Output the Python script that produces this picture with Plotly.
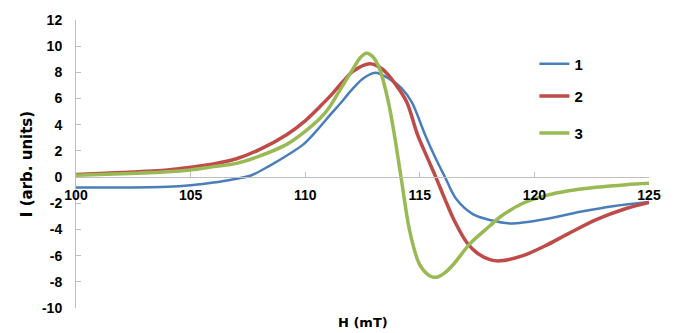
import plotly.graph_objects as go

# Series 1 (blue)
h1 = [100, 102, 104, 105, 106, 107, 107.6, 108.46, 109.2, 109.92, 110.5, 111.08, 111.52, 112, 112.5, 113.05,
      113.7, 114.2, 114.65, 115.23, 115.7, 116.1, 116.6, 117.33, 118.06, 118.94, 119.6, 120.5, 122, 123.5, 125]
i1 = [-0.80, -0.80, -0.74, -0.62, -0.42, -0.12, 0.1, 0.88, 1.65, 2.5, 3.55, 4.73, 5.6, 6.6, 7.5, 7.97,
      7.47, 6.8, 5.73, 3.24, 1.4, 0.0, -1.7, -2.85, -3.28, -3.54, -3.45, -3.2, -2.65, -2.2, -1.9]

# Series 2 (red)
h2 = [100, 102, 104, 105, 106, 107, 108, 109.19, 110, 110.65, 111.1, 111.65, 112.1, 112.83, 113.4, 113.99,
      114.43, 114.9, 115.3, 115.7, 116.1, 116.5, 117.05, 117.5, 118.06, 118.5, 119.5, 120.53, 121.5, 122.7, 124, 125]
i2 = [0.2, 0.35, 0.55, 0.75, 1.0, 1.4, 2.1, 3.24, 4.3, 5.4, 6.2, 7.3, 8.1, 8.66, 8.2, 6.97,
      5.73, 3.24, 1.6, 0.0, -1.7, -3.3, -5.0, -5.8, -6.3, -6.4, -6.0, -5.2, -4.3, -3.25, -2.4, -1.93]

# Series 3 (green)
h3 = [100, 102, 104, 105, 106, 107, 108, 109.19, 110, 110.65, 111.08, 111.5, 112.1, 112.39, 112.68, 112.97,
      113.26, 113.63, 113.89, 114.18, 114.57, 115.0, 115.45, 115.74, 116.1, 116.5, 117.19, 118.06, 118.5,
      119.5, 120.53, 121.5, 122.7, 124, 125]
i3 = [0.15, 0.25, 0.4, 0.55, 0.8, 1.05, 1.6, 2.5, 3.5, 4.49, 5.4, 6.6, 8.3, 9.1, 9.46, 9.15,
      8.2, 5.73, 3.24, 0.0, -4.21, -6.7, -7.55, -7.65, -7.3, -6.6, -5.08, -3.72, -3.05,
      -2.0, -1.4, -1.05, -0.78, -0.58, -0.48]

series_names = ["1", "2", "3"]
colors = ["#4A7EBB", "#BE4B48", "#98B954"]
widths = [2.5, 3.5, 3.5]

x_ticks = [100, 105, 110, 115, 120, 125]
y_ticks = [-10, -8, -6, -4, -2, 0, 2, 4, 6, 8, 10, 12]

FAM = "Liberation Sans, Arial, sans-serif"
tick_font = dict(family=FAM, size=14, color="#000000", weight="bold")
title_font = dict(family="DejaVu Sans, sans-serif", size=15, color="#000000", weight="bold")

fig = go.Figure()
data = [(h1, i1), (h2, i2), (h3, i3)]
legend_ids = ["legend", "legend2", "legend3"]
for k, (hx, iy) in enumerate(data):
    fig.add_trace(go.Scatter(
        x=hx, y=iy, mode="lines", name="<b>" + series_names[k] + "</b>",
        line=dict(color=colors[k], width=widths[k], shape="spline", smoothing=0.9),
        legend=legend_ids[k],
    ))

legend_common = dict(font=dict(family=FAM, size=15, color="#000000", weight="bold"),
                     bgcolor="rgba(0,0,0,0)",
                     xanchor="left", yanchor="middle", itemwidth=30, borderwidth=0)

fig.update_layout(
    width=679, height=333,
    margin=dict(l=76, r=30, t=13, b=25),
    paper_bgcolor="white", plot_bgcolor="white",
    font=tick_font,
    showlegend=True,
    legend=dict(x=0.8, y=(308 - 58) / 295, **legend_common),
    legend2=dict(x=0.8, y=(308 - 91) / 295, **legend_common),
    legend3=dict(x=0.8, y=(308 - 129) / 295, **legend_common),
    xaxis=dict(
        range=[100, 125], tickvals=x_ticks, ticktext=["<b>%d</b>" % v for v in x_ticks],
        anchor="free", position=10 / 22,
        showline=True, linecolor="#BFBFBF", linewidth=1,
        ticks="inside", ticklen=5, tickcolor="#BFBFBF",
        showgrid=False, zeroline=False, tickfont=tick_font, ticklabelstandoff=5,
        title=None,
    ),
    yaxis=dict(
        range=[-10, 12], tickvals=y_ticks, ticktext=["<b>%d</b>" % v for v in y_ticks],
        showline=True, linecolor="#BFBFBF", linewidth=1,
        ticks="inside", ticklen=5, tickcolor="#BFBFBF",
        showgrid=False, zeroline=False, tickfont=tick_font, ticklabelstandoff=10,
        title=dict(text="<b>I (arb. units)</b>", font=title_font, standoff=5),
    ),
)

fig.add_annotation(text="<b>H (mT)</b>", xref="paper", yref="paper", x=0.5, y=0, yshift=-14,
                   showarrow=False, font=dict(family="DejaVu Sans, sans-serif", size=13,
                                              color="#000000", weight="bold"),
                   yanchor="middle")

fig.write_html("out.html")
